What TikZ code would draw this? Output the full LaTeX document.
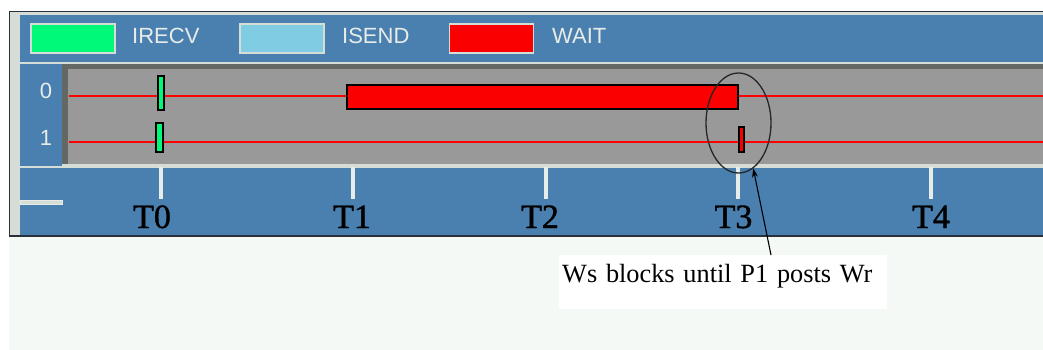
\documentclass[tikz,border=0pt]{standalone}
\usepackage{fontspec}
\setmainfont{Liberation Serif}
\newfontfamily\uisans{Liberation Sans}
\newfontfamily\axisfont[FakeBold=1.2]{Liberation Serif}
\usetikzlibrary{shapes.geometric,arrows.meta}

\definecolor{panelblue}{RGB}{74,128,176}
\definecolor{trackgray}{RGB}{153,153,153}
\definecolor{framelight}{RGB}{214,220,214}
\definecolor{framedark}{RGB}{40,48,56}
\definecolor{bevel}{RGB}{100,104,100}
\definecolor{paper}{RGB}{245,249,246}
\definecolor{uitext}{RGB}{232,236,232}
\definecolor{irecvcol}{RGB}{0,250,120}
\definecolor{isendcol}{RGB}{128,204,226}
\definecolor{waitcol}{RGB}{250,0,0}

\tikzset{
  keybox/.style={draw=framelight, line width=1.5, inner sep=0,
                 minimum width=84, minimum height=29},
  keytext/.style={font=\uisans\fontsize{22}{22}\selectfont, text=uitext,
                  anchor=base west, inner sep=0},
  rowtext/.style={font=\uisans\fontsize{22}{22}\selectfont, text=uitext,
                  anchor=base, inner sep=0},
  bar/.style={draw=black, line width=1.2, inner sep=0},
  irecvbar/.style={bar, fill=irecvcol},
  waitbar/.style={bar, fill=waitcol},
  timeline/.style={draw=red, line width=1.5},
  tickmark/.style={draw=uitext, line width=4},
  ticklabel/.style={font=\axisfont\fontsize{34}{34}\selectfont, anchor=base, inner sep=0},
  callout/.style={draw=black!85, line width=1.3, ellipse, inner sep=0,
                  minimum width=65, minimum height=100},
  note/.style={fill=white, font=\fontsize{26.3}{26.3}\selectfont,
               anchor=north west, inner xsep=3, inner ysep=3,
               text width=322, align=left, text height=24, text depth=24},
  pointer/.style={draw=black, line width=1.1, -{Stealth[length=9,width=6]}}
}

\begin{document}
\begin{tikzpicture}[x=1pt,y=-1pt]
\useasboundingbox (0,0) rectangle (1043,350);
\fill[white] (0,0) rectangle (1043,350);
\fill[paper] (9,237) rectangle (1043,350);

% window frame
\fill[panelblue] (10,11) rectangle (1043,236);
\fill[framelight] (10,12) rectangle (20,236);
\fill[framelight] (10,12) rectangle (1043,15);
\fill[framedark] (9,11) rectangle (1043,12);
\fill[framedark] (9,11) rectangle (10,237);
\fill[framedark] (9,235) rectangle (1043,237);

% legend
\node[keybox, fill=irecvcol] (kirecv) at (73,38.5) {};
\node[keybox, fill=isendcol] (kisend) at (282,38.5) {};
\node[keybox, fill=waitcol]  (kwait)  at (491.5,38.5) {};
\node[keytext] (tirecv) at (132,44) {IRECV};
\node[keytext] (tisend) at (342,44) {ISEND};
\node[keytext] (twait)  at (552,44) {WAIT};

% track panel with bevelled edges
\fill[framelight] (20,62) rectangle (1043,64);
\fill[bevel] (62,64) rectangle (1043,69);
\fill[bevel] (62,64) rectangle (68,166);
\fill[trackgray] (68,69) rectangle (1043,164);
\fill[framelight] (62,164) rectangle (1043,168);
\fill[framelight] (20,166) rectangle (62,168);

% process rows
\node[rowtext] (p0) at (46,99) {0};
\node[rowtext] (p1) at (46,145) {1};
\draw[timeline] (69,96) -- (1043,96);
\draw[timeline] (69,142) -- (1043,142);

% events
\node[irecvbar, minimum width=6, minimum height=34] (r0recv) at (161,93) {};
\node[irecvbar, minimum width=7, minimum height=29] (r1recv) at (159.5,137.5) {};
\node[waitbar, minimum width=391, minimum height=24] (r0wait) at (542.5,97) {};
\node[waitbar, minimum width=5, minimum height=25] (r1wait) at (741.5,139.5) {};

% time axis
\foreach \x in {160.5,352.5,545.5,738,930.5}
  \draw[tickmark] (\x,167) -- (\x,199);
\node[ticklabel] (t0) at (152,228) {T0};
\node[ticklabel] (t1) at (352,228) {T1};
\node[ticklabel] (t2) at (540,228) {T2};
\node[ticklabel] (t3) at (733.5,228) {T3};
\node[ticklabel] (t4) at (931,228) {T4};
\fill[framelight, draw=uitext, line width=1] (20.5,200.5) rectangle (62.5,204.5);

% annotation
\node[callout] (ring) at (738.5,123) {};
\node[note] (msg) at (559,255) {Ws blocks until P1 posts Wr};
\coordinate (tail) at (771,255);
\draw[pointer] (msg.north -| tail) -- (ring.-72);
\end{tikzpicture}
\end{document}
